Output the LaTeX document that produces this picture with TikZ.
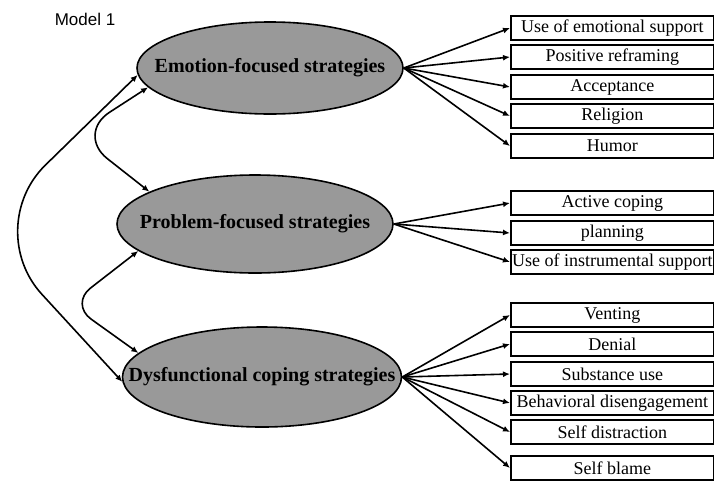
\documentclass[tikz,border=0pt]{standalone}
\usepackage{fontspec}
\setmainfont{Liberation Serif}
\newfontfamily\modelfont{Liberation Sans}
\usetikzlibrary{arrows.meta,shapes.geometric,positioning}

\begin{document}
\begin{tikzpicture}[x=1pt,y=-1pt,
  latent/.style={ellipse,draw,line width=1.6pt,fill=black!40,inner sep=0pt,font=\fontsize{20}{20}\selectfont\bfseries},
  item/.style={draw,line width=1.7pt,minimum width=203pt,minimum height=24pt,inner sep=0pt,anchor=west,font=\fontsize{18}{18}\selectfont},
  load/.style={line width=1.6pt,-{Latex[length=7pt,width=6pt]}},
  cov/.style={line width=1.6pt,{Latex[length=7pt,width=6pt]}-{Latex[length=7pt,width=6pt]},rounded corners=#1}]
\useasboundingbox (0,0) rectangle (714,480);

\node[font=\modelfont\fontsize{17}{17}\selectfont] (title) at (85,19) {Model 1};

% factors
\node[latent,minimum width=266pt,minimum height=92pt] (emo) at (270,68) {\makebox[0pt]{Emotion-focused strategies}};
\node[latent,minimum width=276pt,minimum height=98pt] (prob) at (255,224) {\makebox[0pt]{Problem-focused strategies}};
\node[latent,minimum width=279pt,minimum height=100pt] (dys) at (262,377) {\makebox[0pt]{Dysfunctional coping strategies}};

% indicators
\node[item] (e1) at (510,28) {Use of emotional support};
\node[item] (e2) at (510,57) {Positive reframing};
\node[item] (e3) at (510,87) {Acceptance};
\node[item] (e4) at (510,116) {Religion};
\node[item] (e5) at (510,146) {Humor};

\node[item] (p1) at (510,203) {Active coping};
\node[item] (p2) at (510,233) {planning};
\node[item] (p3) at (510,262) {Use of instrumental support};

\node[item] (d1) at (510,315) {Venting};
\node[item] (d2) at (510,344) {Denial};
\node[item] (d3) at (510,374) {Substance use};
\node[item] (d4) at (510,403) {Behavioral disengagement};
\node[item] (d5) at (510,432) {Self distraction};
\node[item] (d6) at (510,468) {Self blame};

\foreach \i in {1,...,5} \draw[load] (emo.east) -- (e\i.west);
\foreach \i in {1,...,3} \draw[load] (prob.east) -- (p\i.west);
\foreach \i in {1,...,6} \draw[load] (dys.east) -- (d\i.west);

% correlations
\coordinate (bendED) at (-19,228);
\coordinate (bendEP) at (76,134);
\coordinate (bendPD) at (70,304);
\draw[cov=90pt] (emo.183) -- (bendED) -- (dys.182);
\draw[cov=40pt] (emo.189) -- (bendEP) -- (prob.163);
\draw[cov=26pt] (prob.193) -- (bendPD) -- (dys.169);
\end{tikzpicture}
\end{document}
